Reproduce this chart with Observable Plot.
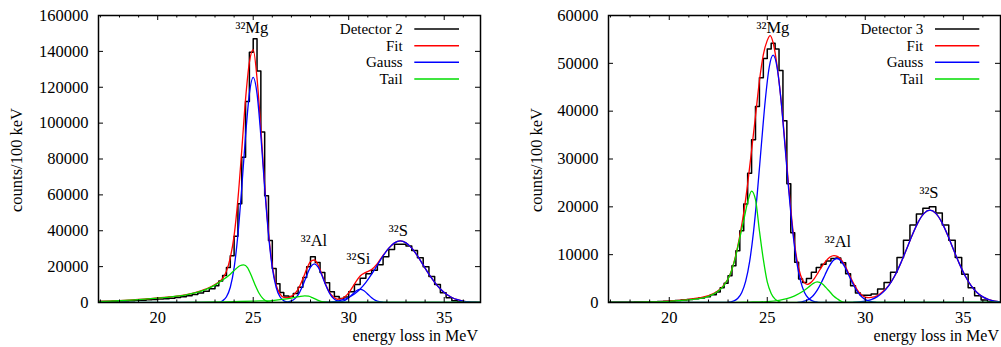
<!DOCTYPE html>
<html><head><meta charset="utf-8">
<script src="https://cdn.jsdelivr.net/npm/d3@7"></script>
<script src="https://cdn.jsdelivr.net/npm/@observablehq/plot@0.6"></script>
<style>
body{margin:0;background:#fff;}
#wrap{display:flex;width:1001px;height:347px;overflow:hidden;}
svg{display:block;}
</style></head><body><div id="wrap"></div>
<script>
// ---------- shared ----------
const xDomain = [16.9, 36.9];
const xMajor = [20, 25, 30, 35];
const xMinor = [17, 18, 19, 21, 22, 23, 24, 26, 27, 28, 29, 31, 32, 33, 34, 36];
const yTicks2 = [0, 20000, 40000, 60000, 80000, 100000, 120000, 140000, 160000];
const yTicks3 = [0, 10000, 20000, 30000, 40000, 50000, 60000];
const seriesNames2 = ["Detector 2", "Fit", "Gauss", "Tail"];
const seriesNames3 = ["Detector 3", "Fit", "Gauss", "Tail"];
const xTitle = "energy loss in MeV";
const yTitle = "counts/100 keV";

// ---------- Detector 2: [bin left edge (MeV), counts] ----------
const hist2 = [[16.9,500],[17.3,600],[17.6,700],[17.9,800],[18.2,900],[18.5,1000],[18.8,1200],[19.1,1300],[19.4,1500],[19.7,1700],[20.0,1900],[20.3,2100],[20.6,2400],[20.9,2800],[21.2,3200],[21.5,3800],[21.8,4500],[22.1,5300],[22.4,6300],[22.7,7600],[23.0,9300],[23.2,12000],[23.4,15000],[23.6,19500],[23.8,26000],[24.0,37000],[24.2,55000],[24.4,81000],[24.6,112000],[24.8,139500],[25.0,147000],[25.2,129000],[25.4,95000],[25.6,59500],[25.8,34500],[26.0,19000],[26.2,10500],[26.4,5600],[26.6,3600],[26.85,3400],[27.1,5000],[27.35,8500],[27.6,14000],[27.8,20000],[28.0,25500],[28.25,22300],[28.5,16700],[28.75,11000],[29.0,6000],[29.25,3300],[29.5,2200],[29.75,3000],[30.0,6000],[30.3,10000],[30.6,13500],[30.9,16000],[31.2,18000],[31.5,21000],[31.8,25500],[32.1,29500],[32.4,32500],[32.7,32500],[33.0,31500],[33.3,29000],[33.6,25000],[33.9,20000],[34.2,14500],[34.5,10000],[34.8,5500],[35.1,2600],[35.4,1000],[35.7,400],[36.0,150],[36.3,50],[36.9,50]];
const fit2 = [[16.9,550],[17.5,800],[18,1050],[18.5,1350],[19,1700],[19.5,2100],[20,2500],[20.5,3000],[21,3600],[21.5,4450],[22,5700],[22.5,7400],[23,10000],[23.4,13500],[23.6,17500],[23.8,25000],[24.0,37300],[24.2,57600],[24.4,84800],[24.6,113500],[24.8,133900],[25.0,141000],[25.2,125000],[25.4,97000],[25.6,65500],[25.8,39300],[26.0,20400],[26.2,9800],[26.4,4800],[26.6,2900],[26.8,2700],[27.0,3400],[27.2,5200],[27.4,8400],[27.6,13200],[27.8,18650],[28.0,22800],[28.2,23700],[28.4,20900],[28.6,15500],[28.8,9900],[29.0,5500],[29.2,3050],[29.4,1800],[29.6,2000],[29.8,3240],[30.0,5400],[30.3,10300],[30.6,14800],[30.9,16800],[31.2,18400],[31.5,21700],[31.8,26250],[32.1,30300],[32.4,33250],[32.7,34300],[33.0,33250],[33.3,30300],[33.6,25950],[33.9,20880],[34.2,15780],[34.5,11220],[34.8,7490],[35.1,4710],[35.4,2780],[35.7,1540],[36.0,800],[36.3,390],[36.6,180],[36.9,80]];
const gaussMg2 = [[16.9,0],[23.2,0],[23.4,1000],[23.6,3200],[23.8,8500],[24.0,19300],[24.2,37900],[24.4,64000],[24.6,93000],[24.8,116400],[25.0,125500],[25.2,116400],[25.4,93000],[25.6,64000],[25.8,37900],[26.0,19300],[26.2,8500],[26.4,3200],[26.6,1000],[26.8,250],[27.0,0],[36.9,0]];
const gaussAl2 = [[26.6,0],[26.8,270],[27.0,870],[27.2,2300],[27.4,5100],[27.6,9600],[27.8,15000],[28.0,19700],[28.2,21500],[28.4,19700],[28.6,15000],[28.8,9600],[29.0,5100],[29.2,2300],[29.4,870],[29.6,270],[29.8,50],[30.0,0]];
const gaussSi2 = [[29.2,0],[29.4,120],[29.6,430],[29.8,1190],[30.0,2630],[30.2,4640],[30.4,6520],[30.6,7300],[30.8,6520],[31.0,4640],[31.2,2630],[31.4,1190],[31.6,430],[31.8,120],[32.0,0]];
const gaussS2 = [[28.5,0],[28.8,180],[29.1,390],[29.4,800],[29.7,1540],[30.0,2780],[30.3,4710],[30.6,7490],[30.9,11220],[31.2,15780],[31.5,20880],[31.8,25950],[32.1,30300],[32.4,33250],[32.7,34300],[33.0,33250],[33.3,30300],[33.6,25950],[33.9,20880],[34.2,15780],[34.5,11220],[34.8,7490],[35.1,4710],[35.4,2780],[35.7,1540],[36.0,800],[36.3,390],[36.6,180],[36.9,80]];
const tailMg2 = [[16.9,500],[17.5,750],[18,1000],[18.5,1300],[19,1600],[19.5,2000],[20,2400],[20.5,2900],[21,3500],[21.5,4300],[22,5500],[22.5,7200],[23,9700],[23.4,12500],[23.8,15800],[24.1,18800],[24.3,20500],[24.5,21000],[24.7,19500],[24.9,15000],[25.1,9800],[25.3,5300],[25.5,2300],[25.7,700],[25.9,150],[26.1,0],[36.9,0]];
const tailAl2 = [[16.9,0],[20,50],[22,150],[23,300],[24,500],[25,750],[25.5,900],[26,1100],[26.5,1700],[27,2500],[27.4,3300],[27.7,3700],[27.9,3500],[28.1,2700],[28.3,1700],[28.5,800],[28.7,300],[28.9,80],[29.1,0],[36.9,0]];
const labels2 = [
  {x: 24.93, y: 150500, t: "³²Mg"},
  {x: 28.18, y: 31600, t: "³²Al"},
  {x: 30.51, y: 21600, t: "³²Si"},
  {x: 32.6, y: 37200, t: "³²S"}
];

// ---------- Detector 3 ----------
const hist3 = [[16.9,30],[17.3,40],[17.6,50],[17.9,60],[18.2,80],[18.5,100],[18.8,130],[19.1,160],[19.4,200],[19.7,260],[20.0,330],[20.3,420],[20.6,520],[20.9,640],[21.2,780],[21.5,950],[21.8,1200],[22.1,1600],[22.4,2200],[22.6,3100],[22.8,4000],[23.0,5600],[23.2,7700],[23.4,10800],[23.6,15000],[23.8,20600],[24.0,27000],[24.2,34000],[24.4,41000],[24.6,47000],[24.8,51000],[25.0,53000],[25.2,54200],[25.4,53000],[25.6,48500],[25.8,38000],[26.0,24800],[26.2,14600],[26.4,8400],[26.6,4900],[26.8,4200],[27.0,5000],[27.25,6300],[27.5,7300],[27.75,8000],[28.0,8700],[28.25,9200],[28.5,9300],[28.75,8300],[29.0,6000],[29.25,3500],[29.5,2000],[29.75,1500],[30.0,1500],[30.3,1800],[30.63,2800],[30.96,4200],[31.29,6300],[31.62,9400],[31.95,13000],[32.28,16200],[32.61,18500],[32.94,19700],[33.27,20000],[33.6,18700],[33.93,16200],[34.26,13000],[34.59,9400],[34.92,5900],[35.25,3100],[35.58,1400],[35.91,500],[36.24,150],[36.57,50],[36.9,50]];
const fit3 = [[16.9,0],[18,40],[19,120],[20,300],[20.5,430],[21,650],[21.5,950],[22,1450],[22.4,2200],[22.8,3700],[23.1,5800],[23.4,10000],[23.6,14000],[23.8,18800],[24.0,24800],[24.2,31800],[24.4,39000],[24.6,46300],[24.8,51800],[25.0,54800],[25.15,55800],[25.3,54300],[25.5,49500],[25.7,42500],[25.9,33500],[26.1,24000],[26.3,15500],[26.5,9300],[26.7,5700],[26.9,4100],[27.05,3800],[27.2,4100],[27.4,5000],[27.6,6300],[27.8,7600],[28.0,8700],[28.2,9500],[28.4,9800],[28.6,9600],[28.8,8800],[29.0,7400],[29.2,5700],[29.4,4000],[29.6,2600],[29.8,1600],[30.0,1100],[30.15,1000],[30.3,1050],[30.6,1400],[30.9,2300],[31.2,3600],[31.5,5550],[31.8,8130],[32.1,11090],[32.4,14130],[32.7,16810],[33.0,18640],[33.3,19300],[33.6,18640],[33.9,16810],[34.2,14130],[34.5,11090],[34.8,8130],[35.1,5550],[35.4,3540],[35.7,2110],[36.0,1170],[36.3,610],[36.6,290],[36.9,130]];
const gaussMg3 = [[16.9,0],[22.9,0],[23.1,120],[23.3,350],[23.5,900],[23.7,2110],[23.9,4460],[24.1,8540],[24.3,14810],[24.5,23230],[24.7,32970],[24.9,42330],[25.1,49180],[25.3,51700],[25.5,49180],[25.7,42330],[25.9,32970],[26.1,23230],[26.3,14810],[26.5,8540],[26.7,4460],[26.9,2110],[27.1,900],[27.3,350],[27.5,120],[27.7,0],[36.9,0]];
const gaussAl3 = [[26.55,0],[26.75,150],[26.95,350],[27.15,760],[27.35,1470],[27.55,2570],[27.75,4070],[27.95,5820],[28.15,7500],[28.35,8740],[28.55,9200],[28.75,8740],[28.95,7500],[29.15,5820],[29.35,4070],[29.55,2570],[29.75,1470],[29.95,760],[30.15,350],[30.35,150],[30.55,0]];
const gaussS3 = [[29.4,0],[29.7,130],[30.0,290],[30.3,610],[30.6,1170],[30.9,2110],[31.2,3540],[31.5,5550],[31.8,8130],[32.1,11090],[32.4,14130],[32.7,16810],[33.0,18640],[33.3,19300],[33.6,18640],[33.9,16810],[34.2,14130],[34.5,11090],[34.8,8130],[35.1,5550],[35.4,3540],[35.7,2110],[36.0,1170],[36.3,610],[36.6,290],[36.9,130]];
const tailMg3 = [[16.9,0],[18,30],[19,100],[20,250],[20.5,380],[21,550],[21.5,800],[22,1300],[22.4,2100],[22.8,3600],[23.1,5800],[23.4,9800],[23.6,13500],[23.8,17200],[24.0,21000],[24.2,23300],[24.4,21500],[24.6,15000],[24.8,9000],[25.0,4300],[25.2,1900],[25.4,700],[25.6,200],[25.8,0],[36.9,0]];
const tailAl3 = [[16.9,0],[23,0],[24,80],[25,200],[25.6,450],[26.0,800],[26.4,1400],[26.8,2300],[27.1,3200],[27.35,4000],[27.55,4300],[27.8,3900],[28.0,3100],[28.2,2200],[28.4,1300],[28.6,700],[28.8,200],[29.0,0],[36.9,0]];
const labels3 = [
  {x: 25.29, y: 56240, t: "³²Mg"},
  {x: 28.61, y: 11500, t: "³²Al"},
  {x: 33.25, y: 21900, t: "³²S"}
];

// ---------- drawing ----------
const FONT = "'Liberation Serif', 'Times New Roman', serif";
const FS = 16.5;
const LEG_FS = 15;
const colors = ["#000000", "#ff0000", "#0000ff", "#00dd00"];

function panel(cfg) {
  const H = 347, mt = 15, mb = 45;
  const innerH = H - mt - mb;
  const innerW = cfg.width - cfg.ml - cfg.mr;
  const lineOpts = (stroke) => ({x: d => d[0], y: d => d[1], stroke, strokeWidth: 1.3, curve: "monotone-x", clip: true});
  const marks = [
    Plot.line(cfg.hist, {x: d => d[0], y: d => d[1], stroke: colors[0], strokeWidth: 1.5, curve: "step-after", clip: true}),
    Plot.line(cfg.fit, lineOpts(colors[1])),
    ...cfg.gauss.map(g => Plot.line(g, lineOpts(colors[2]))),
    ...cfg.tail.map(g => Plot.line(g, lineOpts(colors[3]))),
    // inward tick marks on all four sides
    Plot.tickX(xMajor, {x: d => d, insetTop: innerH - 5, stroke: "black", strokeWidth: 1}),
    Plot.tickX(xMajor, {x: d => d, insetBottom: innerH - 5, stroke: "black", strokeWidth: 1}),
    Plot.tickX(xMinor, {x: d => d, insetTop: innerH - 2.5, stroke: "black", strokeWidth: 1}),
    Plot.tickX(xMinor, {x: d => d, insetBottom: innerH - 2.5, stroke: "black", strokeWidth: 1}),
    Plot.tickY(cfg.yTicks, {y: d => d, insetRight: innerW - 5, stroke: "black", strokeWidth: 1}),
    Plot.tickY(cfg.yTicks, {y: d => d, insetLeft: innerW - 5, stroke: "black", strokeWidth: 1}),
    Plot.frame({stroke: "black", strokeWidth: 1.5}),
    Plot.axisX(xMajor, {tickSize: 0, tickPadding: 9, label: null, fontSize: FS}),
    Plot.axisY(cfg.yTicks, {tickSize: 0, tickPadding: 10, label: null, tickFormat: d3.format("d"), fontSize: FS}),
    Plot.text(cfg.labels, {x: "x", y: "y", text: "t", lineAnchor: "bottom", textAnchor: "middle", fontSize: FS})
  ];
  const svg = Plot.plot({
    width: cfg.width, height: H,
    marginLeft: cfg.ml, marginRight: cfg.mr, marginTop: mt, marginBottom: mb,
    x: {domain: xDomain},
    y: {domain: cfg.yDomain},
    style: {fontFamily: FONT, fontSize: FS + "px", background: "white", color: "black"},
    marks
  });
  const s = d3.select(svg);
  // axis titles
  s.append("text").attr("x", cfg.xTitleX).attr("y", 341).attr("text-anchor", "end")
    .attr("font-size", 16).attr("fill", "black").text(xTitle);
  s.append("text").attr("transform", `translate(${cfg.yTitleX},160) rotate(-90)`).attr("text-anchor", "middle")
    .attr("font-size", FS).attr("fill", "black").text(yTitle);
  // legend
  const rows = [29, 45.7, 62.3, 79];
  const g = s.append("g");
  cfg.names.forEach((n, i) => {
    g.append("text").attr("x", cfg.legText).attr("y", rows[i]).attr("dy", "0.32em")
      .attr("text-anchor", "end").attr("font-size", LEG_FS).attr("fill", "black").text(n);
    g.append("line").attr("x1", cfg.legL1).attr("x2", cfg.legL2).attr("y1", rows[i]).attr("y2", rows[i])
      .attr("stroke", colors[i]).attr("stroke-width", 1.5);
  });
  return svg;
}

const wrap = document.getElementById("wrap");
wrap.appendChild(panel({
  width: 500, ml: 98, mr: 20, yDomain: [0, 160000], yTicks: yTicks2,
  hist: hist2, fit: fit2, gauss: [gaussMg2, gaussAl2, gaussSi2, gaussS2], tail: [tailMg2, tailAl2],
  labels: labels2, names: seriesNames2,
  xTitleX: 478, yTitleX: 22, legText: 402.7, legL1: 414.3, legL2: 459
}));
wrap.appendChild(panel({
  width: 501, ml: 108, mr: 1, yDomain: [0, 60000], yTicks: yTicks3,
  hist: hist3, fit: fit3, gauss: [gaussMg3, gaussAl3, gaussS3], tail: [tailMg3, tailAl3],
  labels: labels3, names: seriesNames3,
  xTitleX: 499, yTitleX: 42, legText: 423.3, legL1: 435, legL2: 479.3
}));
</script></body></html>
